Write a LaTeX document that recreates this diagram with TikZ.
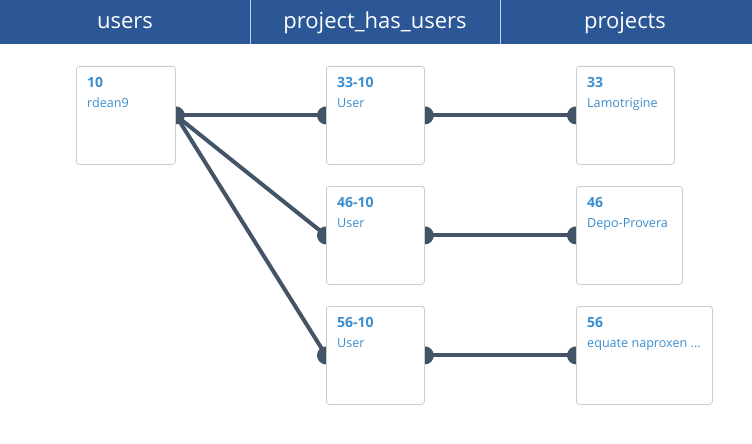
\documentclass[tikz,border=0pt]{standalone}
\usepackage{fontspec}
\setmainfont{Open Sans}
\definecolor{hdr}{HTML}{2B5797}
\definecolor{txtblue}{HTML}{3A8ED0}
\definecolor{conncol}{HTML}{435466}
\definecolor{boxcol}{HTML}{CCCCCC}
\definecolor{divcol}{HTML}{C9D3E2}
\pgfdeclarelayer{background}
\pgfsetlayers{background,main}
\begin{document}
\begin{tikzpicture}[x=1pt,y=-1pt,
  box/.style={draw=boxcol, fill=white, rounded corners=3pt, line width=0.8pt,
    anchor=north west, inner sep=0pt, minimum height=98pt},
  idtxt/.style={anchor=base west, inner sep=0pt, text=txtblue, font=\bfseries\fontsize{14}{16}\selectfont},
  nametxt/.style={anchor=base west, inner sep=0pt, text=txtblue, font=\fontsize{12.6}{15}\selectfont},
  hdrtxt/.style={text=white, font=\fontsize{22}{26}\selectfont},
  conn/.style={draw=conncol, line width=4pt},
  knob/.style={fill=conncol}
]
\useasboundingbox (0,0) rectangle (752,444);
\fill[hdr] (0,0) rectangle (752,44);
\draw[divcol, line width=0.8pt] (250,0) -- (250,44);
\draw[divcol, line width=0.8pt] (500,0) -- (500,44);
\node[hdrtxt] (h1) at (125,23) {users};
\node[hdrtxt] (h2) at (375,23) {project\_has\_users};
\node[hdrtxt] (h3) at (625,23) {projects};

% users
\node[box, minimum width=99pt] (u10) at (76,66) {};
\node[idtxt] (u10id) at (87,87) {10};
\node[nametxt] (u10nm) at (87,107) {rdean9};

% project_has_users
\node[box, minimum width=98pt] (j1) at (326,66) {};
\node[idtxt] (j1id) at (337,87) {33-10};
\node[nametxt] (j1nm) at (337,107) {User};
\node[box, minimum width=98pt] (j2) at (326,186) {};
\node[idtxt] (j2id) at (337,207) {46-10};
\node[nametxt] (j2nm) at (337,227) {User};
\node[box, minimum width=98pt] (j3) at (326,306) {};
\node[idtxt] (j3id) at (337,327) {56-10};
\node[nametxt] (j3nm) at (337,347) {User};

% projects
\node[box, minimum width=98pt] (p33) at (576,66) {};
\node[idtxt] (p33id) at (587,87) {33};
\node[nametxt] (p33nm) at (587,107) {Lamotrigine};
\node[box, minimum width=106pt] (p46) at (576,186) {};
\node[idtxt] (p46id) at (587,207) {46};
\node[nametxt] (p46nm) at (587,227) {Depo-Provera};
\node[box, minimum width=136pt] (p56) at (576,306) {};
\node[idtxt] (p56id) at (587,327) {56};
\node[nametxt] (p56nm) at (587,347) {equate naproxen ...};

\begin{pgfonlayer}{background}
  \draw[conn] (u10.east) -- (j1.west);
  \draw[conn] (u10.east) -- (j2.west);
  \draw[conn] (u10.east) -- (j3.west);
  \draw[conn] (j1.east) -- (p33.west);
  \draw[conn] (j2.east) -- (p46.west);
  \draw[conn] (j3.east) -- (p56.west);
  \foreach \n/\a in {u10/east,j1/west,j2/west,j3/west,j1/east,j2/east,j3/east,p33/west,p46/west,p56/west}
    \fill[knob] (\n.\a) circle (9pt);
\end{pgfonlayer}
\end{tikzpicture}
\end{document}
